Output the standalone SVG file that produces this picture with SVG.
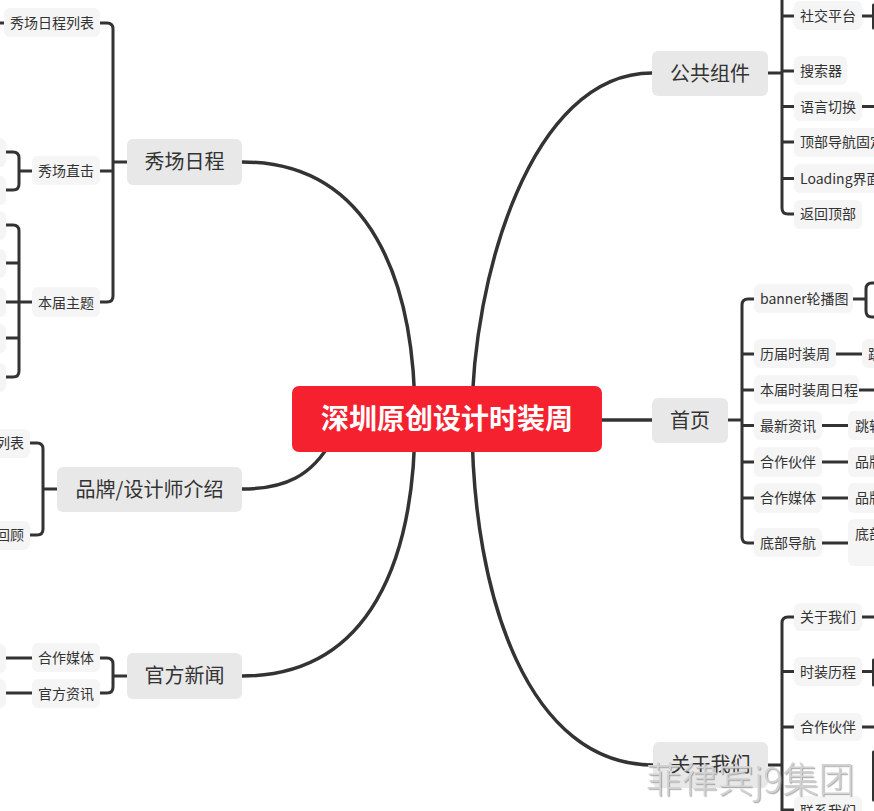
<svg xmlns="http://www.w3.org/2000/svg" width="874" height="811" viewBox="0 0 874 811">
<style>
text{font-family:"Noto Sans CJK SC","Noto Sans",sans-serif;fill:#333}
.m rect{fill:#E8E8E8}
.m text{font-size:20px;text-anchor:middle}
.s rect{fill:#F5F5F5}
.s text{font-size:14px}
.l{stroke:#333;stroke-width:3;fill:none;stroke-linecap:round}
.c{stroke:#333;stroke-width:3.5;fill:none}
.e text{text-anchor:end}
</style>
<defs>
<filter id="sh" x="-10%" y="-10%" width="120%" height="130%"><feDropShadow dx="1.2" dy="1.2" stdDeviation="0.6" flood-color="#9a9a9a" flood-opacity="0.8"/></filter>
</defs>
<rect width="874" height="811" fill="#fff"/>
<g id="connectors">
<path class="c" d="M242 162 C370 162 415 280 415 419"/>
<path class="c" d="M242 676 C370 676 415 560 415 419"/>
<path class="c" d="M652 73 C530 73 472 280 472 419"/>
<path class="c" d="M653 765 C530 765 472 600 472 419"/>
<path class="c" d="M242 489 C285 489 312 476 332 440"/>
<path class="c" d="M600 420 H652"/>
<path class="l" d="M100 23 H107 Q113 23 113 29 V296 Q113 302 107 302 H100 M100 171 H113 M113 162 H127"/>
<path class="l" d="M0 23 H4"/>
<path class="l" d="M6 152 H13 Q19 152 19 158 V184 Q19 190 13 190 H6 M19 171 H32"/>
<path class="l" d="M6 225 H13 Q19 225 19 231 V371 Q19 377 13 377 H6 M6 263 H19 M6 338 H19 M6 302 H32"/>
<path class="l" d="M30 443 H37 Q43 443 43 449 V529 Q43 535 37 535 H30 M43 489 H57"/>
<path class="l" d="M100 658 H107 Q113 658 113 664 V687 Q113 693 107 693 H100 M113 676 H127 M6 658 H32 M6 693 H32"/>
<path class="l" d="M782 -10 V208 Q782 214 788 214 H794 M782 16 H794 M782 71 H794 M782 106.5 H794 M782 142 H794 M782 178.5 H794 M768 73 H782"/>
<path class="l" d="M862 16 H874 M873.5 5 V28 M862 106.5 H874"/>
<path class="l" d="M754 299 H748 Q742 299 742 305 V537 Q742 543 748 543 H754 M742 354 H754 M742 390 H754 M742 425.5 H754 M742 462 H754 M742 498 H754 M728 420 H742"/>
<path class="l" d="M853 299 H866 M876 283 H872 Q866 283 866 289 V311 Q866 317 872 317 H876"/>
<path class="l" d="M836 354 H862 M859 390 H874 M822 425.5 H848 M822 462 H848 M822 498 H848 M822 543 H848"/>
<path class="l" d="M794 617 H788 Q782 617 782 623 V820 M782 671.5 H794 M782 727 H794 M782 810 H794 M768 765 H782"/>
<path class="l" d="M862 617 H874 M862 671.5 H874 M873.5 660 V685 M862 727 H874 M873.5 752 V800"/>
</g>

<g id="root"><rect x="292" y="386" width="310" height="66" rx="7" fill="#F5212E"/><text x="447" y="429" font-size="28" font-weight="700" text-anchor="middle" style="fill:#fff">深圳原创设计时装周</text></g>

<g id="n-xiuchang" class="m"><rect x="127" y="139" width="115" height="46" rx="6"/><text x="184.5" y="169">秀场日程</text></g>
<g id="n-pinpai" class="m"><rect x="57" y="467" width="185" height="45" rx="6"/><text x="149.5" y="496.5">品牌/设计师介绍</text></g>
<g id="n-guanfang" class="m"><rect x="127" y="653" width="115" height="46" rx="6"/><text x="184.5" y="683">官方新闻</text></g>
<g id="n-gonggong" class="m"><rect x="652" y="51" width="116" height="45" rx="6"/><text x="710" y="80.5">公共组件</text></g>
<g id="n-shouye" class="m"><rect x="652" y="398" width="76" height="45" rx="6"/><text x="690" y="427.5">首页</text></g>
<g id="n-guanyu" class="m"><rect x="653" y="742" width="115" height="46" rx="6"/><text x="710.5" y="772">关于我们</text></g>

<g class="s e">
<g id="s-list"><rect x="4" y="8" width="96" height="29" rx="6"/><text x="94" y="28">秀场日程列表</text></g>
<g id="s-zhiji"><rect x="32" y="156" width="68" height="29" rx="6"/><text x="94" y="176">秀场直击</text></g>
<g id="s-zhuti"><rect x="32" y="287" width="68" height="30" rx="6"/><text x="94" y="307.5">本届主题</text></g>
<g id="s-zj1"><rect x="-60" y="138" width="66" height="29" rx="6"/></g>
<g id="s-zj2"><rect x="-60" y="176" width="66" height="29" rx="6"/></g>
<g id="s-zt1"><rect x="-60" y="211" width="66" height="29" rx="6"/></g>
<g id="s-zt2"><rect x="-60" y="249" width="66" height="29" rx="6"/></g>
<g id="s-zt3"><rect x="-60" y="288" width="66" height="29" rx="6"/></g>
<g id="s-zt4"><rect x="-60" y="324" width="66" height="29" rx="6"/></g>
<g id="s-zt5"><rect x="-60" y="363" width="66" height="29" rx="6"/></g>
<g id="s-pp1"><rect x="-60" y="429" width="90" height="29" rx="6"/><text x="24" y="448">列表</text></g>
<g id="s-pp2"><rect x="-60" y="521" width="90" height="29" rx="6"/><text x="24" y="540">回顾</text></g>
<g id="s-meiti"><rect x="32" y="643" width="68" height="29" rx="6"/><text x="94" y="663">合作媒体</text></g>
<g id="s-zixun"><rect x="32" y="679" width="68" height="29" rx="6"/><text x="94" y="698.5">官方资讯</text></g>
<g id="s-mt1"><rect x="-60" y="644" width="66" height="29" rx="6"/></g>
<g id="s-zx1"><rect x="-60" y="679" width="66" height="29" rx="6"/></g>
</g>

<g class="s">
<g id="r-shejiao"><rect x="794" y="1" width="68" height="29" rx="6"/><text x="800" y="21">社交平台</text></g>
<g id="r-sousuo"><rect x="794" y="56" width="53" height="29" rx="6"/><text x="800" y="76">搜索器</text></g>
<g id="r-yuyan"><rect x="794" y="92" width="68" height="29" rx="6"/><text x="800" y="111.5">语言切换</text></g>
<g id="r-dingbu"><rect x="794" y="128" width="100" height="29" rx="6"/><text x="800" y="147">顶部导航固定</text></g>
<g id="r-loading"><rect x="794" y="164" width="100" height="29" rx="6"/><text x="800" y="183.5">Loading界面</text></g>
<g id="r-fanhui"><rect x="794" y="200" width="68" height="29" rx="6"/><text x="800" y="219">返回顶部</text></g>

<g id="h-banner"><rect x="754" y="284" width="99" height="29" rx="6"/><text x="760" y="304">banner轮播图</text></g>
<g id="h-lijie"><rect x="754" y="339" width="82" height="29" rx="6"/><text x="760" y="359">历届时装周</text></g>
<g id="h-lijie-c"><rect x="862" y="339" width="60" height="29" rx="6"/><text x="868" y="359">跳</text></g>
<g id="h-benjie"><rect x="754" y="375" width="105" height="29" rx="6"/><text x="760" y="394.5">本届时装周日程</text></g>
<g id="h-zuixin"><rect x="754" y="411" width="68" height="29" rx="6"/><text x="760" y="430.5">最新资讯</text></g>
<g id="h-zuixin-c"><rect x="848" y="411" width="60" height="29" rx="6"/><text x="855" y="430.5">跳转</text></g>
<g id="h-huoban"><rect x="754" y="447" width="68" height="30" rx="6"/><text x="760" y="467">合作伙伴</text></g>
<g id="h-huoban-c"><rect x="848" y="447" width="60" height="30" rx="6"/><text x="855" y="467">品牌</text></g>
<g id="h-meiti"><rect x="754" y="483" width="68" height="30" rx="6"/><text x="760" y="503">合作媒体</text></g>
<g id="h-meiti-c"><rect x="848" y="483" width="60" height="30" rx="6"/><text x="855" y="503">品牌</text></g>
<g id="h-dibu"><rect x="754" y="528" width="68" height="29" rx="6"/><text x="760" y="548">底部导航</text></g>
<g id="h-dibu-c"><rect x="848" y="519" width="60" height="47" rx="6"/><text x="855" y="539">底部</text></g>

<g id="a-guanyu"><rect x="794" y="603" width="68" height="28" rx="6"/><text x="800" y="622">关于我们</text></g>
<g id="a-licheng"><rect x="794" y="657" width="68" height="29" rx="6"/><text x="800" y="676.5">时装历程</text></g>
<g id="a-huoban"><rect x="794" y="713" width="68" height="28" rx="6"/><text x="800" y="732">合作伙伴</text></g>
<g id="a-lianxi"><rect x="794" y="796" width="68" height="29" rx="6"/><text x="800" y="815.5">联系我们</text></g>
</g>

<text x="646" y="793" font-size="36" font-weight="300" filter="url(#sh)" style="fill:#d2d2d2">菲律宾j9集团</text>
</svg>
